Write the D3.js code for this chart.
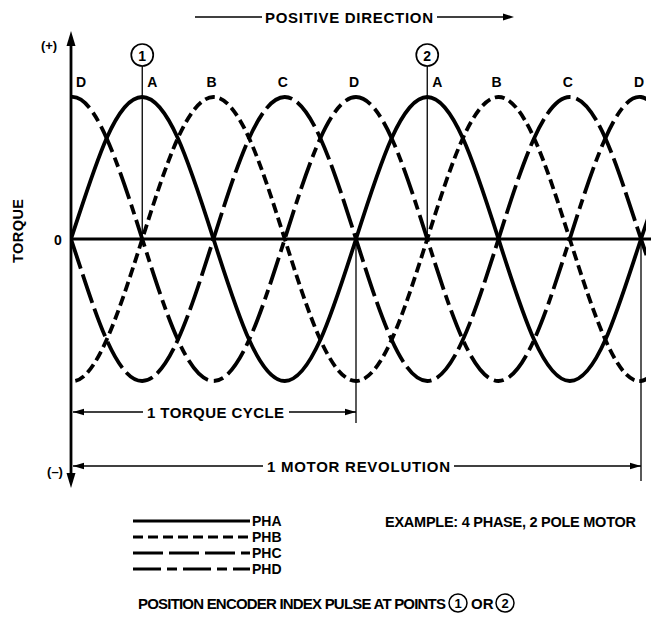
<!DOCTYPE html>
<html><head><meta charset="utf-8">
<script src="https://cdn.jsdelivr.net/npm/d3@7"></script>
<style>
body{margin:0;background:#fff}
text{font-family:"Liberation Sans",Arial,Helvetica,sans-serif;font-weight:bold;fill:#000}
</style>
</head><body>
<svg id="c" width="654" height="633"></svg>
<script>
// ---- data (electrical angle in degrees, normalised torque) ----
const angles = [-45,0,45,90,135,180,225,270,315,360,405,450,495,540,585,630,675,720,765];
const PHA = [-0.71,0,0.71,1,0.71,0,-0.71,-1,-0.71,0,0.71,1,0.71,0,-0.71,-1,-0.71,0,0.71];
const PHB = [-0.71,-1,-0.71,0,0.71,1,0.71,0,-0.71,-1,-0.71,0,0.71,1,0.71,0,-0.71,-1,-0.71];
const PHC = [0.71,0,-0.71,-1,-0.71,0,0.71,1,0.71,0,-0.71,-1,-0.71,0,0.71,1,0.71,0,-0.71];
const PHD = [0.71,1,0.71,0,-0.71,-1,-0.71,0,0.71,1,0.71,0,-0.71,-1,-0.71,0,0.71,1,0.71];
const phaseNames = ["PHA","PHB","PHC","PHD"];
const peakLetters = ["D","A","B","C","D","A","B","C","D"];
const peakAngles  = [0,90,180,270,360,450,540,630,720];
const indexPoints = [{n:"1",angle:90},{n:"2",angle:450}];
const torqueCycle = [0,360];
const motorRev = [0,720];

const svg = d3.select("#c");
const x = d3.scaleLinear().domain([0,720]).range([71,641]);
const y = d3.scaleLinear().domain([-1,1]).range([381,97]);
const y0 = y(0);

const dashes = {PHA:null, PHB:"10,5", PHC:"30,6", PHD:"28,6,10,6"};
const series = {PHA,PHB,PHC,PHD};

svg.append("defs").append("clipPath").attr("id","clip")
  .append("rect").attr("x",x(0)).attr("y",0).attr("width",x(725)-x(0)+1).attr("height",633);

const line = d3.line().x((d,i)=>x(angles[i])).y(d=>y(d)).curve(d3.curveNatural);

const g = svg.append("g").attr("clip-path","url(#clip)");
phaseNames.forEach(p=>{
  g.append("path").attr("d",line(series[p]))
    .attr("fill","none").attr("stroke","#000").attr("stroke-width",3.8)
    .attr("stroke-dasharray",dashes[p]);
});

function tri(x0,y0,dir,len,hw){
  let p;
  if(dir==='r') p=[[x0,y0],[x0-len,y0-hw],[x0-len,y0+hw]];
  if(dir==='l') p=[[x0,y0],[x0+len,y0-hw],[x0+len,y0+hw]];
  if(dir==='u') p=[[x0,y0],[x0-hw,y0+len],[x0+hw,y0+len]];
  if(dir==='d') p=[[x0,y0],[x0-hw,y0-len],[x0+hw,y0-len]];
  svg.append("path").attr("d","M"+p.map(q=>q.join(",")).join("L")+"Z").attr("fill","#000");
}

// zero line
svg.append("line").attr("x1",x(0)).attr("x2",651).attr("y1",y0).attr("y2",y0)
  .attr("stroke","#000").attr("stroke-width",2.8);
// torque axis
svg.append("line").attr("x1",x(0)).attr("x2",x(0)).attr("y1",40).attr("y2",480)
  .attr("stroke","#000").attr("stroke-width",2.8);
tri(x(0),31,'u',15,4.5);
tri(x(0),488,'d',15,4.5);

// index pulse markers
indexPoints.forEach(d=>{
  const cx=x(d.angle);
  svg.append("circle").attr("cx",cx).attr("cy",55).attr("r",11)
    .attr("fill","#fff").attr("stroke","#000").attr("stroke-width",1.7);
  svg.append("text").attr("x",cx).attr("y",60.5).attr("text-anchor","middle")
    .style("font-size","14px").text(d.n);
  svg.append("line").attr("x1",cx).attr("x2",cx).attr("y1",66).attr("y2",y0)
    .attr("stroke","#000").attr("stroke-width",1.3);
});

// peak letters
peakLetters.forEach((l,i)=>{
  const a=peakAngles[i];
  const off = (l==="A"||i===0) ? 10 : -2;
  svg.append("text").attr("x",x(a)+off).attr("y",87).attr("text-anchor","middle")
    .style("font-size","14px").text(l);
});

// torque cycle dimension
const tcY=412;
svg.append("line").attr("x1",x(torqueCycle[1])).attr("x2",x(torqueCycle[1])).attr("y1",y0).attr("y2",423)
  .attr("stroke","#000").attr("stroke-width",1.3);
svg.append("line").attr("x1",x(0)+2).attr("x2",143).attr("y1",tcY).attr("y2",tcY).attr("stroke","#000").attr("stroke-width",1.5);
svg.append("line").attr("x1",289).attr("x2",x(torqueCycle[1])).attr("y1",tcY).attr("y2",tcY).attr("stroke","#000").attr("stroke-width",1.5);
tri(x(0)+2,tcY,'l',11,3.3);
tri(x(torqueCycle[1]),tcY,'r',11,3.3);
svg.append("text").attr("x",147).attr("y",tcY+5.5).attr("textLength",137).attr("lengthAdjust","spacing")
  .style("font-size","15px").text("1 TORQUE CYCLE");

// motor revolution dimension
const mrY=466;
svg.append("line").attr("x1",x(motorRev[1])).attr("x2",x(motorRev[1])).attr("y1",y0).attr("y2",481)
  .attr("stroke","#000").attr("stroke-width",1.3);
svg.append("line").attr("x1",x(0)+2).attr("x2",263).attr("y1",mrY).attr("y2",mrY).attr("stroke","#000").attr("stroke-width",1.5);
svg.append("line").attr("x1",454).attr("x2",x(motorRev[1])).attr("y1",mrY).attr("y2",mrY).attr("stroke","#000").attr("stroke-width",1.5);
tri(x(0)+2,mrY,'l',11,3.3);
tri(x(motorRev[1]),mrY,'r',11,3.3);
svg.append("text").attr("x",267).attr("y",mrY+5.5).attr("textLength",183).attr("lengthAdjust","spacing")
  .style("font-size","15px").text("1 MOTOR REVOLUTION");

// positive direction
svg.append("line").attr("x1",195).attr("x2",262).attr("y1",17).attr("y2",17).attr("stroke","#000").attr("stroke-width",1.5);
svg.append("line").attr("x1",437).attr("x2",504).attr("y1",17).attr("y2",17).attr("stroke","#000").attr("stroke-width",1.5);
tri(514,17,'r',11,3.5);
svg.append("text").attr("x",265).attr("y",22.5).attr("textLength",168).attr("lengthAdjust","spacing")
  .style("font-size","15px").text("POSITIVE DIRECTION");

// axis labels
svg.append("text").attr("x",49).attr("y",50).attr("text-anchor","middle").style("font-size","13px").text("(+)");
svg.append("text").attr("x",55).attr("y",476).attr("text-anchor","middle").style("font-size","13px").text("(\u2013)");
svg.append("text").attr("x",58).attr("y",244.5).attr("text-anchor","middle").style("font-size","14px").text("0");
svg.append("text").attr("transform","translate(23,231) rotate(-90)").attr("text-anchor","middle")
  .attr("textLength",64).attr("lengthAdjust","spacing").style("font-size","14.5px").text("TORQUE");

// legend
const legY0=521, legStep=16;
phaseNames.forEach((p,i)=>{
  const yy=legY0+i*legStep;
  svg.append("line").attr("x1",133).attr("x2",250).attr("y1",yy).attr("y2",yy)
    .attr("stroke","#000").attr("stroke-width",3.2).attr("stroke-dasharray",dashes[p]);
  svg.append("text").attr("x",252).attr("y",yy+5).style("font-size","14px").text(p);
});
svg.append("text").attr("x",385).attr("y",526.5).attr("textLength",251).attr("lengthAdjust","spacing")
  .style("font-size","14.5px").text("EXAMPLE: 4 PHASE, 2 POLE MOTOR");

// bottom note
const by=603;
svg.append("text").attr("x",138).attr("y",by+5.5).attr("textLength",308).attr("lengthAdjust","spacing")
  .style("font-size","15px").text("POSITION ENCODER INDEX PULSE AT POINTS");
[{n:"1",cx:458},{n:"2",cx:505}].forEach(d=>{
  svg.append("circle").attr("cx",d.cx).attr("cy",by).attr("r",9).attr("fill","none").attr("stroke","#000").attr("stroke-width",1.5);
  svg.append("text").attr("x",d.cx).attr("y",by+5).attr("text-anchor","middle").style("font-size","13px").text(d.n);
});
svg.append("text").attr("x",471).attr("y",by+5.5).style("font-size","15px").text("OR");
</script>
</body></html>
